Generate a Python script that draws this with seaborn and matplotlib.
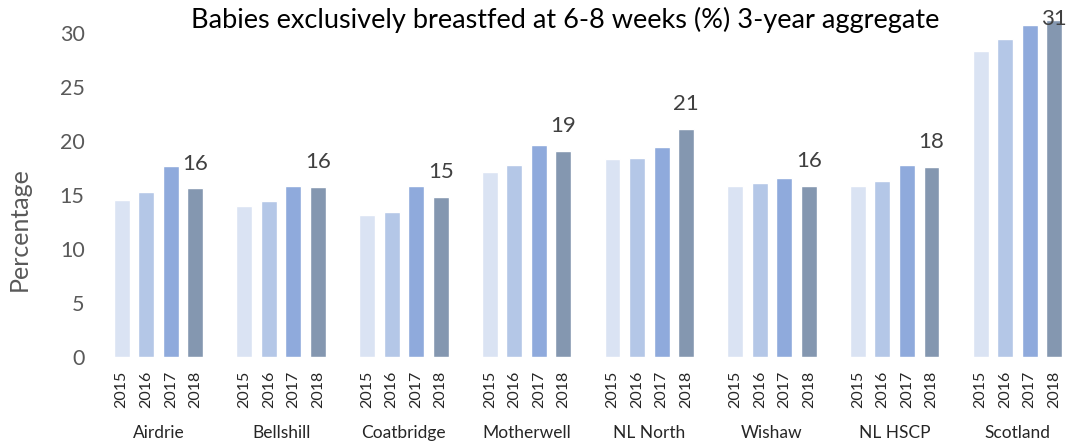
import pandas as pd
import matplotlib
matplotlib.use("Agg")
import matplotlib.pyplot as plt
import matplotlib.transforms as mtransforms
import seaborn as sns

# Data
areas = ["Airdrie", "Bellshill", "Coatbridge", "Motherwell",
         "NL North", "Wishaw", "NL HSCP", "Scotland"]
years = ["2015", "2016", "2017", "2018"]
v2015 = [14.5, 14.0, 13.1, 17.1, 18.3, 15.8, 15.8, 28.3]
v2016 = [15.3, 14.4, 13.4, 17.8, 18.4, 16.1, 16.3, 29.4]
v2017 = [17.7, 15.8, 15.8, 19.6, 19.4, 16.6, 17.8, 30.7]
v2018 = [15.6, 15.7, 14.8, 19.1, 21.1, 15.8, 17.6, 31.2]
year_colors = ["#DAE3F3", "#B4C7E7", "#8FAADC", "#8497B0"]

df = pd.DataFrame({
    "area": areas * 4,
    "year": [y for y in years for _ in areas],
    "value": v2015 + v2016 + v2017 + v2018,
})

sns.set_style("white")
plt.rcParams["font.family"] = ["Lato", "DejaVu Sans"]

fig = plt.figure(figsize=(10.73, 4.48), dpi=100)
ax = fig.add_axes([0.0905, 0.2038, 0.9095, 0.7708])

sns.barplot(data=df, x="area", y="value", hue="year", palette=year_colors,
            width=0.8, gap=0.35, saturation=1, ax=ax, legend=False,
            errorbar=None)

ax.set_ylim(0, 32)
ax.set_xlim(-0.5, 7.453)
ax.set_yticks(range(0, 31, 5))
ax.tick_params(axis="y", labelsize=15.5, labelcolor="#595959", length=0, pad=9)
sns.despine(ax=ax, left=True, bottom=True)
ax.set_xlabel("")
ax.set_ylabel("Percentage", fontsize=18, color="#595959")
ax.yaxis.set_label_coords(-0.068, 0.37)

# year tick labels under every bar
centers, labels = [], []
for year, cont in zip(years, ax.containers):
    for bar in cont:
        centers.append(bar.get_x() + bar.get_width() / 2)
        labels.append(year)
ax.set_xticks(centers)
ax.set_xticklabels(labels, rotation=90, fontsize=11.5, color="#262626")
ax.tick_params(axis="x", length=0, pad=10)

# area names below the year labels
trans = mtransforms.blended_transform_factory(ax.transData, ax.transAxes)
for i, name in enumerate(areas):
    ax.text(i, -0.222, name, transform=trans, ha="center", va="center",
            fontsize=12.5, color="#262626")

# data labels on the 2018 bars
for bar, v in zip(ax.containers[-1], v2018):
    y = min(v + 2.3, 31.3)
    ax.text(bar.get_x() + bar.get_width() / 2, y, f"{v:.0f}",
            ha="center", va="center", fontsize=16, color="#404040")

fig.text(0.527, 0.955, "Babies exclusively breastfed at 6-8 weeks (%) 3-year aggregate",
         ha="center", va="center", fontsize=19.5, color="black")

fig.savefig("out.png", dpi=100)
